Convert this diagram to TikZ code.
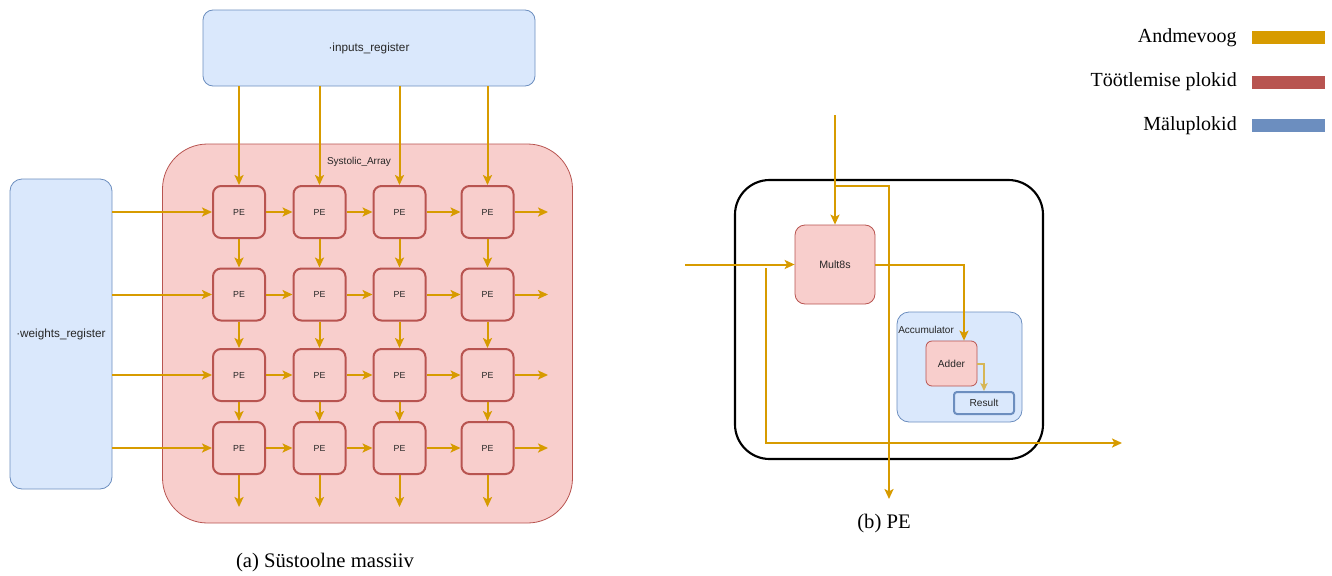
\documentclass[tikz,border=0pt]{standalone}
\usepackage{fontspec}
\setmainfont{Liberation Serif}
\setsansfont{Liberation Sans}
\usetikzlibrary{arrows.meta,calc}

\definecolor{flow}{HTML}{D79B00}
\definecolor{flowlight}{HTML}{D6B656}
\definecolor{procfill}{HTML}{F8CECC}
\definecolor{procline}{HTML}{B85450}
\definecolor{memfill}{HTML}{DAE8FC}
\definecolor{memline}{HTML}{6C8EBF}
\definecolor{txt}{HTML}{262626}

\tikzset{
  flowarrow/.style={draw=flow, line width=1.5pt,
    -{Stealth[length=7.5pt,width=6.8pt,inset=1.8pt]}},
  smallarrow/.style={draw=flowlight, line width=1.5pt,
    -{Stealth[length=6pt,width=5.5pt,inset=1.4pt]}},
  membox/.style={draw=memline, fill=memfill, line width=0.6pt, inner sep=0pt,
    text=txt, font=\sffamily\fontsize{8.8}{10}\selectfont},
  procbox/.style={draw=procline, fill=procfill, line width=0.6pt, inner sep=0pt,
    text=txt, font=\sffamily\fontsize{8}{10}\selectfont},
  pebox/.style={draw=procline, fill=procfill, line width=1.5pt, inner sep=0pt,
    minimum width=39pt, minimum height=39pt, rounded corners=6pt,
    text=txt, font=\sffamily\fontsize{6.6}{8}\selectfont},
  label/.style={inner sep=0pt, text=txt, font=\sffamily\fontsize{7.5}{9}\selectfont},
  caption/.style={inner sep=0pt, text=black, font=\fontsize{15.5}{18}\selectfont},
  legendtext/.style={inner sep=0pt, anchor=east, text=black, font=\fontsize{15}{18}\selectfont},
  legendbar/.style={inner sep=0pt, minimum width=54.75pt, minimum height=9.75pt},
}

\begin{document}
\begin{tikzpicture}[x=0.75pt,y=-0.75pt]
\useasboundingbox (0,0) rectangle (1332,575);

% ---------- (a) systolic array ----------
\node[procbox, minimum width=307.5pt, minimum height=284.25pt, rounded corners=33.75pt]
  (array) at (367.5,333.5) {};
\node[label] (arraylabel) at (359,162) {Systolic\_Array};

\node[membox, minimum width=249pt, minimum height=57pt, rounded corners=7.5pt]
  (inreg) at (369,48) {·inputs\_register};
\node[membox, minimum width=76.5pt, minimum height=232.5pt, rounded corners=9pt]
  (wreg) at (61,334) {·weights\_register};

\foreach \r/\y in {1/212,2/294.5,3/375,4/448}
  \foreach \c/\x in {1/239,2/319.5,3/399.5,4/487.5}
    \node[pebox] (pe-\r-\c) at (\x,\y) {PE};

% inputs flow down the columns
\foreach \c in {1,2,3,4}
  \draw[flowarrow] (inreg.south -| pe-1-\c) -- (pe-1-\c.north);
\foreach \r/\n in {1/2,2/3,3/4}
  \foreach \c in {1,2,3,4}
    \draw[flowarrow] (pe-\r-\c.south) -- (pe-\n-\c.north);
\foreach \c/\x in {1/239,2/319.5,3/399.5,4/487.5} {
  \coordinate (bot-\c) at (\x,507);
  \draw[flowarrow] (pe-4-\c.south) -- (bot-\c);
}

% weights flow along the rows
\foreach \r in {1,2,3,4}
  \draw[flowarrow] (wreg.east |- pe-\r-1) -- (pe-\r-1.west);
\foreach \r in {1,2,3,4}
  \foreach \c/\n in {1/2,2/3,3/4}
    \draw[flowarrow] (pe-\r-\c.east) -- (pe-\r-\n.west);
\foreach \r/\y in {1/212,2/294.5,3/375,4/448} {
  \coordinate (right-\r) at (548,\y);
  \draw[flowarrow] (pe-\r-4.east) -- (right-\r);
}

\node[caption] (capa) at (325,563) {(a) Süstoolne massiiv};

% ---------- (b) processing element ----------
\node[draw=black, line width=1.6pt, inner sep=0pt, minimum width=231pt,
  minimum height=209.25pt, rounded corners=26pt] (pe) at (889,319.5) {};
\node[procbox, minimum width=60pt, minimum height=59.25pt, rounded corners=7.5pt]
  (mult) at (835,264.5) {Mult8s};
\node[membox, minimum width=93.75pt, minimum height=82.5pt, rounded corners=9pt]
  (acc) at (959.5,367) {};
\node[label, anchor=west] (acclabel) at (898,330) {Accumulator};
\node[procbox, minimum width=38.25pt, minimum height=33.75pt, rounded corners=4.5pt,
  font=\sffamily\fontsize{7.6}{9}\selectfont] (adder) at (951.5,363.5) {Adder};
\node[membox, draw=memline, line width=1.5pt, minimum width=45pt, minimum height=16.5pt,
  rounded corners=2.25pt, font=\sffamily\fontsize{7.6}{9}\selectfont]
  (result) at (984,403) {Result};

\coordinate (topin) at (835,115);
\coordinate (tap) at (835,186);
\coordinate (downout) at (889,499);
\coordinate (leftin) at (685,264.5);
\coordinate (passstart) at (766,268);
\coordinate (passout) at (1122,443);

\draw[flowarrow] (topin) -- (mult.north);
\draw[flowarrow] (tap) -| (downout);
\draw[flowarrow] (leftin) -- (mult.west);
\draw[flowarrow] (passstart) |- (passout);
\draw[flowarrow] (mult.east) -| ($(adder.north)+(12.5,0)$);
\draw[smallarrow] (adder.east) -| (result.north);

\node[caption] (capb) at (884,524) {(b) PE};

% ---------- legend ----------
\node[legendtext] (lflow) at (1237,38) {Andmevoog};
\node[legendtext] (lproc) at (1237,82) {Töötlemise plokid};
\node[legendtext] (lmem) at (1237,126) {Mäluplokid};
\node[legendbar, fill=flow] (bflow) at (1288.5,37.5) {};
\node[legendbar, fill=procline] (bproc) at (1288.5,82) {};
\node[legendbar, fill=memline] (bmem) at (1288.5,125) {};
\end{tikzpicture}
\end{document}
